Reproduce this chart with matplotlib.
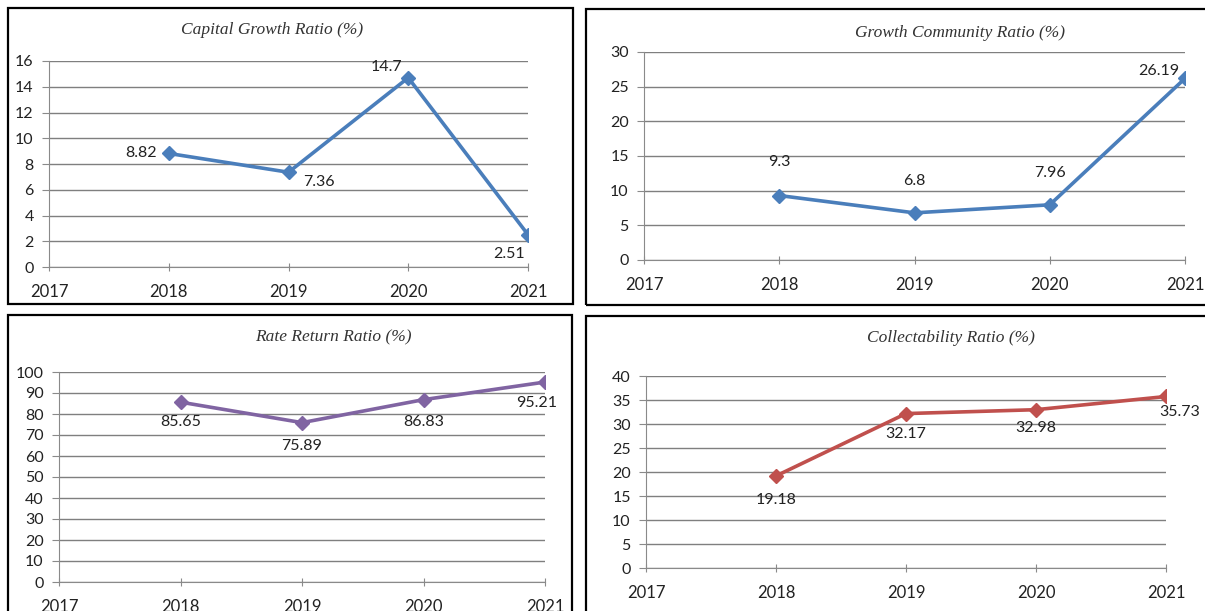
import matplotlib
matplotlib.use("Agg")
import matplotlib.pyplot as plt
from matplotlib.patches import Rectangle

W, H = 1205, 611

years = [2018, 2019, 2020, 2021]

capital_growth = [8.82, 7.36, 14.7, 2.51]
community_growth = [9.3, 6.8, 7.96, 26.19]
rate_return = [85.65, 75.89, 86.83, 95.21]
collectability = [19.18, 32.17, 32.98, 35.73]

plt.rcParams['font.family'] = ['Lato', 'DejaVu Sans']

fig = plt.figure(figsize=(W / 100, H / 100), dpi=100)


def px_axes(left, right, top, bottom):
    """ Axes placed by pixel edges (y measured from top). """
    return fig.add_axes([left / W, 1 - bottom / H, (right - left) / W, (bottom - top) / H])


def frame(x0, y0, x1, y1):
    fig.patches.append(Rectangle((x0 / W, 1 - y1 / H), (x1 - x0) / W, (y1 - y0) / H,
                                 transform=fig.transFigure, fill=False,
                                 edgecolor='black', linewidth=1.6))


def panel(ax, values, color, ymax, step, title, title_xy, offsets):
    ax.plot(years, values, color=color, lw=2.6, marker='D', ms=7, zorder=3)
    ax.set_xlim(2017, 2021)
    ax.set_ylim(0, ymax)
    ax.set_xticks([2017, 2018, 2019, 2020, 2021])
    ax.set_yticks(range(0, ymax + 1, step))
    ax.grid(axis='y', color='#7f7f7f', lw=1.0)
    ax.set_axisbelow(True)
    for s in ['top', 'right']:
        ax.spines[s].set_visible(False)
    for s in ['left', 'bottom']:
        ax.spines[s].set_color('#8a8a8a')
    ax.tick_params(axis='x', direction='inout', length=6, color='#8a8a8a',
                   labelsize=12, labelcolor='#222222', pad=9)
    ax.tick_params(axis='y', direction='out', length=5, color='#8a8a8a',
                   labelsize=11.5, labelcolor='#222222', pad=6)
    ax.set_facecolor('none')
    for x, v, (dx, dy) in zip(years, values, offsets):
        ax.annotate(f'{v:g}', (x, v), xytext=(dx, dy), textcoords='offset points',
                    ha='center', va='center', fontsize=11.5, color='#222222')
    fig.text(title_xy[0] / W, 1 - title_xy[1] / H, title, ha='center', va='center',
             fontsize=12.5, style='italic', family='Liberation Serif', color='#333333')


frame(8, 8, 573, 304)
frame(586, 9, 1215, 305)
frame(8, 315, 572, 625)
frame(586, 316, 1215, 625)

ax1 = px_axes(49, 528, 61, 267)
panel(ax1, capital_growth, '#4a7ebb', 16, 2, 'Capital Growth Ratio (%)', (272, 30),
      [(-20, 0), (22, -7), (-16, 8), (-14, -14)])

ax2 = px_axes(644, 1185, 52, 260)
panel(ax2, community_growth, '#4a7ebb', 30, 5, 'Growth Community Ratio (%)', (960, 33),
      [(0, 24), (0, 23), (0, 23), (-19, 5)])

ax3 = px_axes(59, 545, 372, 582)
panel(ax3, rate_return, '#8064a2', 100, 10, 'Rate Return Ratio (%)', (333, 337),
      [(0, -14), (0, -17), (0, -16), (-6, -15)])

ax4 = px_axes(646, 1166, 376, 568)
panel(ax4, collectability, '#c0504d', 40, 5, 'Collectability Ratio (%)', (951, 338),
      [(0, -17), (0, -15), (0, -13), (10, -11)])

fig.savefig('out.png', dpi=100)
